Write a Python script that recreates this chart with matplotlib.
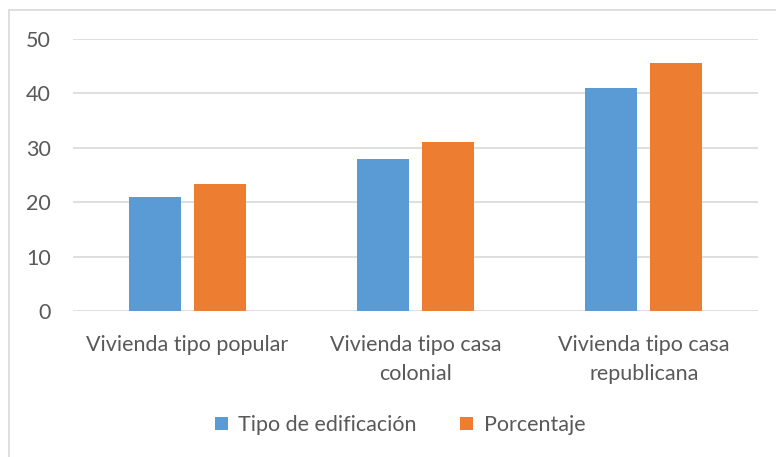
import matplotlib
matplotlib.use("Agg")
import matplotlib.pyplot as plt
from matplotlib.patches import Rectangle
import numpy as np

categories = ["Vivienda tipo popular", "Vivienda tipo casa\ncolonial", "Vivienda tipo casa\nrepublicana"]
series_names = ["Tipo de edificación", "Porcentaje"]
tipo_edificacion = [21, 28, 41]
porcentaje = [23.3, 31.1, 45.6]
yticks = [0, 10, 20, 30, 40, 50]
colors = ["#5b9bd5", "#ed7d31"]

plt.rcParams['font.family'] = ['Lato', 'DejaVu Sans']
txt = "#595959"
fs = 15.5

fig = plt.figure(figsize=(7.76, 4.57), dpi=100)
W, H = 776, 457
ax = fig.add_axes([73 / W, 1 - 311 / H, (758 - 73) / W, (311 - 39) / H])

x = np.arange(len(categories))
bw = 0.227
gap = 0.057
ax.bar(x - (bw + gap) / 2, tipo_edificacion, bw, color=colors[0], label=series_names[0], zorder=3)
ax.bar(x + (bw + gap) / 2, porcentaje, bw, color=colors[1], label=series_names[1], zorder=3)

ax.set_xlim(-0.5, len(categories) - 0.5)
ax.set_ylim(0, 50)
ax.set_yticks(yticks)
ax.set_yticklabels([str(t) for t in yticks], fontsize=fs, color=txt)
ax.set_xticks(x)
ax.set_xticklabels(categories, fontsize=fs, color=txt, linespacing=1.55, va="top")
ax.tick_params(axis="both", length=0)
ax.tick_params(axis="y", pad=16)
ax.tick_params(axis="x", pad=17.5)
ax.grid(axis="y", color="#d9d9d9", linewidth=1.2, zorder=0)
for s in ax.spines.values():
    s.set_visible(False)

leg = fig.legend(loc="center", bbox_to_anchor=(400 / W, 1 - 425 / H), ncol=2, frameon=False,
                 fontsize=fs, handlelength=0.6, handleheight=0.6, handletextpad=0.5,
                 columnspacing=2.0, labelcolor=txt)

fig.patches.append(Rectangle((9 / W, -0.1), 1.2, (1 - 10 / H) + 0.1, transform=fig.transFigure,
                             fill=False, edgecolor="#d9d9d9", linewidth=1.2))

fig.savefig("out.png", dpi=100)
